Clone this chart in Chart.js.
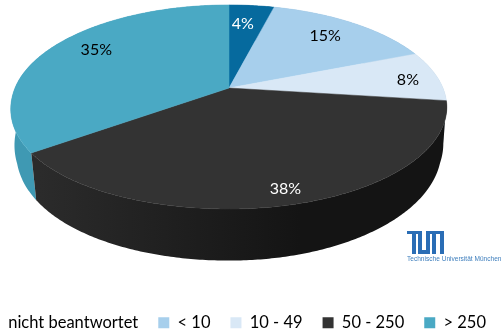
<!DOCTYPE html>
<html><head><meta charset="utf-8">
<script src="https://cdn.jsdelivr.net/npm/chart.js@4/dist/chart.umd.min.js"></script>
<style>html,body{margin:0;padding:0;background:#fff;overflow:hidden;width:501px;height:335px}
#wrap{position:absolute;left:-200px;top:0;width:706px;height:341px}</style>
</head><body><div id="wrap"><canvas id="c" width="706" height="341"></canvas></div>
<script>
const categories = ['nicht beantwortet', '< 10', '10 - 49', '50 - 250', '> 250'];
const shares = [4, 15, 8, 38, 35];
const topColors = ['#066a9e', '#a7cfec', '#d9e8f6', '#333333', '#4aa9c4'];
const sideColors = ['#055a86', '#8eb0c9', '#b8c5d1', '#1a1a1a', '#3f99b3'];
const labelColors = ['#ffffff', '#000000', '#000000', '#ffffff', '#000000'];
const labelRadius = [0.743, 0.768, 0.853, 0.889, 0.788];
const labelTurn = [-1.5, -1, 1.6, 0, 5];
const logoName = 'Technische Universität München';

const OFFSET = 200, CX = 229 + OFFSET, CY = 88, RX = 214, RY = 98.5, P = 0.186;
const DEPTH = 42, SHRINK = 0.975, BULGE = 12;

// a = canvas arc angle (0 = right, clockwise), f = fraction of radius
function upperRim(a, f) {
  const u = Math.cos(a) * f, v = Math.sin(a) * f, w = 1 - P * v;
  const extra = v > 0 && u < 0 ? BULGE * v * v * u : 0;
  return [CX + RX * u / w + extra, CY + RY * v / w, w];
}
function lowerRim(a) {
  const [x, y, w] = upperRim(a, 1);
  const t = Math.min(1, Math.max(0, (Math.sin(a) + 0.1) / 0.4));
  const s = 1 + (SHRINK - 1) * t;
  return [CX + (x - CX) * s, y + DEPTH / w];
}
function rim(ctx, a0, a1, fn, rev) {
  const n = Math.max(4, Math.ceil(Math.abs(a1 - a0) * 90));
  for (let i = 0; i <= n; i++) {
    const t = rev ? 1 - i / n : i / n;
    const p = fn(a0 + (a1 - a0) * t);
    ctx.lineTo(p[0], p[1]);
  }
}

const tiltedPie = {
  id: 'tiltedPie',
  beforeDatasetsDraw(chart) {
    const ctx = chart.ctx, arcs = chart.getDatasetMeta(0).data;
    ctx.save();
    // walls, back to front
    [0, 1, 2, 4, 3].forEach(i => {
      const el = arcs[i];
      let fill = sideColors[i];
      if (i === 3) {
        const g = ctx.createLinearGradient(OFFSET + 40, 0, OFFSET + 300, 0);
        g.addColorStop(0, '#2b2b2b'); g.addColorStop(1, '#141414');
        fill = g;
      }
      ctx.fillStyle = fill;
      ctx.beginPath();
      const s = upperRim(el.startAngle, 1);
      ctx.moveTo(s[0], s[1]);
      rim(ctx, el.startAngle, el.endAngle, a => upperRim(a, 1), false);
      rim(ctx, el.startAngle, el.endAngle, lowerRim, true);
      ctx.closePath();
      ctx.fill();
    });
    // top faces
    arcs.forEach((el, i) => {
      ctx.fillStyle = topColors[i];
      ctx.strokeStyle = topColors[i];
      ctx.lineWidth = 0.5;
      ctx.beginPath();
      ctx.moveTo(CX, CY);
      rim(ctx, el.startAngle, el.endAngle, a => upperRim(a, 1), false);
      ctx.closePath();
      ctx.fill();
      ctx.stroke();
    });
    // value labels
    ctx.font = '16px Lato';
    ctx.textAlign = 'center';
    ctx.textBaseline = 'middle';
    arcs.forEach((el, i) => {
      const mid = (el.startAngle + el.endAngle) / 2 + labelTurn[i] * Math.PI / 180;
      const p = upperRim(mid, labelRadius[i]);
      ctx.fillStyle = labelColors[i];
      ctx.fillText(shares[i] + '%', p[0], p[1]);
    });
    // logo
    const lx = OFFSET + 407, ly = 231, blue = '#2a6db5';
    ctx.fillStyle = blue;
    [[0,0,15,3],[5,3,4,20],[11,3,4,16],[11,19,12,4],[19,3,4,16],[19,0,18,3],[25,3,4,20],[33,3,4,20]]
      .forEach(r => ctx.fillRect(lx + r[0], ly + r[1], r[2], r[3]));
    ctx.translate(lx, 259);
    ctx.scale(0.82, 1);
    ctx.font = "8px 'Liberation Sans'";
    ctx.textAlign = 'left';
    ctx.fillStyle = '#3f7fbd';
    ctx.fillText(logoName, 0, 0);
    ctx.restore();
    return false;
  }
};

new Chart(document.getElementById('c'), {
  type: 'pie',
  data: { labels: categories, datasets: [{ data: shares, backgroundColor: topColors, borderWidth: 0 }] },
  options: {
    responsive: false, animation: false,
    layout: { padding: 0 },
    plugins: {
      tooltip: { enabled: false },
      legend: {
        position: 'bottom', align: 'end',
        labels: { boxWidth: 11, boxHeight: 11, padding: 20, color: '#000000', font: { family: 'Lato', size: 16.5 } }
      }
    }
  },
  plugins: [tiltedPie]
});
</script></body></html>
